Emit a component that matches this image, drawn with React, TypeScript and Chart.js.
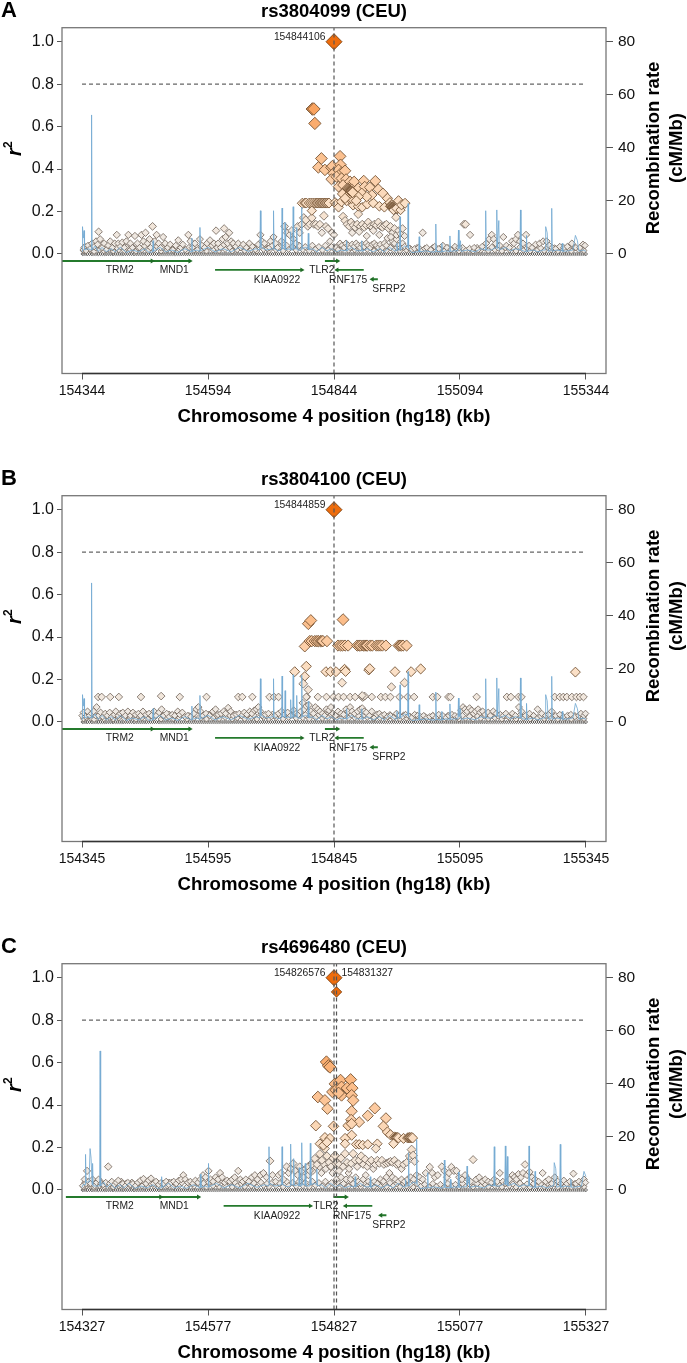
import React, { useEffect, useRef } from "react";
import { Chart, registerables } from "chart.js";

Chart.register(...registerables);

type Pair = [number, number];

// All positions are kb from the left-most tick of panel A/B (154344) or from each panel's own start, as noted.
const r2Ticks = [0, 0.2, 0.4, 0.6, 0.8, 1];
const r2TickLabels = ["0.0", "0.2", "0.4", "0.6", "0.8", "1.0"];
const rateTicks = [0, 20, 40, 60, 80];
const kbTicks = [0, 250, 500, 750, 1000];
const kbLabelsA = ["154344", "154594", "154844", "155094", "155344"];
const kbLabelsB = ["154345", "154595", "154845", "155095", "155345"];
const kbLabelsC = ["154327", "154577", "154827", "155077", "155327"];

// SNPs at r2 = 0 (kb from panel start)
const zeroRowKb = [1,4,8,11,15,19,22,26,30,33,37,41,45,48,52,56,60,63,67,71,75,79,82,86,90,94,98,102,105,109,113,117,121,125,128,132,136,140,144,148,152,155,159,163,167,171,175,179,183,186,190,194,198,202,206,210,214,218,222,226,230,234,238,242,246,250,254,258,262,266,270,274,278,282,286,290,294,298,302,306,310,314,318,322,326,330,334,338,342,346,350,354,358,362,366,370,374,378,382,386,390,394,398,402,406,410,414,418,422,426,430,434,438,442,446,450,454,458,462,466,470,474,478,482,486,490,494,498,502,506,510,514,518,522,526,530,534,538,542,546,550,554,558,562,566,570,574,578,582,586,590,594,598,602,606,610,614,618,622,626,630,634,638,642,646,650,654,658,662,666,670,674,678,682,686,690,694,698,702,706,710,714,718,722,726,730,734,738,742,746,750,754,758,762,766,770,774,778,782,786,790,794,798,802,806,810,814,818,822,826,830,834,838,842,846,850,854,858,862,866,870,874,878,882,886,890,894,898,902,906,910,914,918,922,926,930,934,938,942,946,950,954,958,962,966,970,974,978,982,986,990,994,998,1000];

// SNPs just above zero, seen in all three panels
const nearZeroSnps: Pair[] = [[3,.015],[9,.02],[17,.018],[24,.012],[35,.02],[43,.015],[54,.022],[62,.014],[73,.02],[84,.016],[96,.02],[107,.013],[119,.02],[131,.016],[143,.02],[157,.014],[169,.02],[181,.016],[193,.022],[208,.014],[222,.018],[236,.02],[247,.014],[260,.02],[272,.016],[284,.022],[298,.014],[308,.02],[323,.016],[336,.02],[347,.014],[360,.022],[371,.016],[385,.02],[399,.015],[410,.022],[425,.018],[438,.02],[451,.015],[463,.022],[477,.018],[489,.02],[503,.016],[516,.022],[529,.018],[541,.02],[553,.016],[566,.022],[579,.016],[591,.02],[604,.016],[618,.02],[631,.016],[644,.018],[657,.014],[672,.018],[688,.014],[703,.018],[719,.014],[733,.02],[748,.014],[761,.018],[776,.014],[791,.018],[806,.016],[819,.02],[833,.014],[848,.02],[861,.014],[876,.018],[889,.014],[903,.02],[917,.016],[931,.02],[944,.014],[958,.018],[971,.014],[986,.018],[996,.016]];
const sharedLowSnps: Pair[] = [[6,.035],[14,.03],[21,.04],[27,.03],[39,.035],[47,.03],[58,.035],[69,.03],[78,.04],[88,.032],[99,.036],[111,.03],[124,.038],[136,.03],[149,.035],[160,.03],[173,.036],[185,.03],[198,.035],[212,.03],[226,.036],[241,.032],[252,.036],[268,.03],[280,.04],[293,.032],[303,.036],[316,.03],[329,.036],[341,.032],[355,.036],[367,.03],[378,.036],[392,.032],[406,.04],[418,.034],[431,.04],[443,.034],[457,.04],[470,.034],[483,.04],[495,.034],[507,.036],[521,.03],[535,.034],[548,.03],[560,.034],[573,.03],[586,.034],[599,.03],[611,.034],[625,.03],[638,.032],[651,.026],[665,.03],[680,.026],[696,.03],[711,.026],[726,.03],[741,.026],[755,.03],[769,.026],[784,.03],[799,.028],[813,.032],[826,.028],[840,.03],[855,.028],[869,.032],[883,.028],[896,.03],[910,.028],[924,.032],[938,.028],[951,.03],[965,.028],[978,.03],[991,.028]];

const lowCloudA: Pair[] = [[2,.02],[4,.03],[8,.015],[12,.04],[16,.025],[20,.05],[24,.035],[28,.06],[31,.045],[33,.105],[36,.07],[40,.03],[44,.05],[48,.02],[52,.04],[56,.06],[60,.03],[65,.05],[69,.09],[72,.05],[76,.035],[80,.055],[84,.03],[88,.06],[92,.09],[96,.05],[100,.03],[105,.085],[110,.05],[114,.03],[118,.09],[122,.06],[126,.1],[130,.05],[134,.07],[140,.13],[144,.06],[148,.09],[152,.05],[156,.03],[161,.08],[165,.05],[170,.03],[175,.045],[180,.02],[186,.04],[191,.065],[196,.03],[200,.045],[205,.02],[211,.09],[215,.06],[219,.03],[224,.05],[229,.02],[234,.07],[238,.04],[243,.03],[248,.05],[254,.065],[258,.04],[262,.05],[266,.11],[270,.05],[275,.03],[279,.07],[282,.12],[285,.08],[289,.05],[292,.1],[296,.06],[300,.05],[305,.035],[310,.05],[315,.03],[320,.045],[326,.03],[332,.05],[338,.035],[344,.02],[350,.045],[354,.09],[357,.06],[362,.05],[368,.025],[372,.03],[374,.06],[378,.04],[380,.08],[384,.05],[388,.03],[396,.06],[402,.13],[407,.1],[412,.09],[416,.11],[420,.07],[424,.05],[428,.13],[432,.1],[436,.14],[440,.17],[444,.16],[448,.13],[452,.14],[456,.17],[460,.14],[464,.14],[468,.13],[472,.14],[476,.1],[480,.18],[484,.13],[488,.12],[492,.06],[496,.1],[500,.09],[504,.03],[508,.02],[512,.05],[516,.04],[520,.03],[524,.05],[528,.04],[532,.03],[536,.045],[540,.035],[544,.05],[548,.04],[552,.03],[556,.045],[560,.035],[564,.05],[568,.04],[572,.03],[576,.045],[580,.05],[584,.04],[588,.03],[592,.045],[596,.03],[600,.05],[604,.04],[612,.03],[616,.06],[620,.05],[624,.07],[628,.04],[632,.03],[636,.05],[640,.035],[648,.03],[654,.02],[660,.025],[668,.03],[676,.1],[684,.03],[692,.02],[700,.035],[708,.025],[716,.04],[724,.03],[732,.02],[740,.035],[748,.03],[758,.14],[761,.14],[770,.09],[778,.03],[786,.02],[794,.035],[802,.05],[808,.07],[813,.09],[817,.07],[821,.05],[829,.04],[836,.08],[842,.04],[848,.03],[853,.06],[857,.05],[861,.07],[865,.09],[869,.06],[875,.05],[881,.09],[887,.04],[893,.03],[900,.045],[908,.05],[915,.06],[922,.06],[927,.04],[933,.03],[940,.025],[948,.035],[956,.03],[963,.035],[972,.05],[980,.03],[988,.03],[994,.045],[998,.04]];
const midBandA: Pair[] = [[518,.176],[522,.157],[526,.14],[530,.13],[534,.15],[538,.135],[542,.125],[546,.14],[548,.188],[552,.13],[556,.14],[560,.125],[564,.135],[568,.15],[572,.13],[576,.125],[580,.14],[584,.135],[588,.15],[592,.13],[596,.125],[600,.135],[604,.14],[608,.12],[612,.13],[616,.1],[620,.12],[624,.09],[628,.11],[632,.095],[636,.12],[640,.085],[536,.1],[550,.105],[565,.085],[578,.11],[590,.09],[606,.075],[613,.08]];
const upperBandA: Pair[] = [[437,.239],[442,.24],[445,.24],[451,.24],[455,.24],[459,.24],[463,.24],[466,.24],[469,.24],[472,.24],[475,.24],[477,.24],[479,.24],[482,.24],[485,.24],[487,.24],[490,.24],[456,.204],[502,.242],[505,.235],[509,.22],[515,.246],[525,.251],[531,.262],[538,.23],[548,.225],[556,.22],[566,.235],[578,.24],[590,.225],[600,.22]];
const highSnpsA: Pair[] = [[457,.683],[460,.683],[462,.615],[475,.45],[469,.408],[482,.396],[495,.407],[497,.414],[512,.46],[513,.42],[499,.38],[495,.352],[509,.396],[515,.383],[522,.392],[505,.364],[515,.356],[524,.352],[509,.317],[518,.325],[532,.341],[540,.341],[528,.309],[535,.305],[542,.294],[548,.309],[559,.345],[561,.317],[555,.286],[571,.314],[582,.344],[588,.305],[597,.286],[606,.262],[575,.278],[565,.27],[548,.27],[535,.262],[544,.251],[517,.283],[532,.286],[522,.262],[527,.31],[528,.307],[529,.305],[530,.302],[531,.3],[532,.299],[533,.298],[534,.296],[535,.295],[536,.292],[537,.29],[611,.242],[614,.231],[612,.225],[613,.224],[614,.222],[615,.221],[616,.22],[617,.219],[618,.218],[619,.217],[620,.215],[621,.214],[622,.213],[623,.212],[625,.21],[618,.207],[623,.173],[624,.215],[628,.251],[632,.207],[634,.231],[641,.239]];

const lowCloudB: Pair[] = [[0,.03],[3,.045],[7,.025],[11,.05],[15,.03],[19,.04],[23,.05],[29,.07],[33,.03],[37,.045],[41,.025],[46,.04],[50,.03],[55,.045],[59,.025],[64,.035],[67,.05],[72,.03],[76,.04],[81,.045],[86,.03],[91,.05],[96,.03],[101,.045],[106,.035],[112,.04],[116,.03],[121,.05],[127,.035],[133,.04],[138,.03],[143,.05],[147,.03],[153,.045],[158,.06],[162,.03],[168,.04],[173,.025],[179,.035],[184,.03],[190,.05],[194,.035],[199,.045],[204,.025],[210,.03],[216,.025],[222,.04],[227,.06],[231,.07],[235,.05],[240,.03],[246,.04],[253,.03],[260,.05],[265,.06],[270,.035],[276,.04],[281,.05],[285,.04],[290,.067],[295,.05],[300,.03],[306,.035],[312,.04],[317,.03],[322,.045],[327,.035],[333,.05],[337,.04],[342,.055],[346,.06],[350,.07],[354,.05],[358,.03],[364,.035],[370,.04],[376,.025],[383,.03],[390,.04],[396,.05],[402,.035],[408,.045],[414,.03],[420,.055],[425,.04],[429,.035],[434,.05],[438,.09],[441,.06],[445,.075],[450,.08],[454,.05],[459,.04],[463,.07],[468,.06],[472,.05],[477,.04],[481,.03],[485,.06],[490,.055],[494,.07],[498,.04],[503,.03],[508,.05],[514,.04],[519,.035],[524,.06],[528,.05],[532,.07],[536,.05],[541,.04],[547,.05],[552,.06],[556,.065],[560,.05],[564,.045],[570,.03],[575,.05],[580,.02],[585,.035],[590,.04],[595,.03],[600,.035],[606,.025],[612,.03],[618,.02],[624,.04],[630,.03],[636,.025],[642,.035],[648,.03],[654,.02],[660,.035],[666,.03],[672,.025],[678,.03],[684,.02],[690,.025],[696,.03],[702,.02],[708,.035],[716,.03],[722,.02],[728,.03],[734,.035],[740,.03],[746,.025],[752,.055],[756,.07],[760,.06],[764,.05],[769,.065],[773,.055],[777,.04],[781,.05],[786,.06],[790,.045],[795,.05],[800,.035],[806,.045],[810,.03],[816,.05],[822,.04],[830,.035],[836,.03],[841,.04],[846,.025],[854,.04],[860,.03],[867,.07],[872,.05],[880,.03],[888,.04],[896,.03],[904,.06],[912,.04],[920,.03],[926,.035],[932,.05],[940,.03],[948,.035],[955,.025],[963,.03],[970,.035],[978,.025],[986,.03],[990,.04],[996,.03],[999,.04]];
const row012B: Pair[] = [[32,.118],[39,.118],[56,.118],[73,.118],[117,.118],[157,.122],[194,.118],[247,.118],[310,.118],[318,.118],[338,.118],[372,.118],[381,.118],[390,.118],[446,.118],[468,.118],[485,.118],[499,.118],[509,.118],[519,.118],[532,.118],[542,.118],[555,.12],[557,.115],[559,.118],[561,.122],[575,.118],[593,.118],[602,.118],[612,.118],[630,.118],[646,.118],[659,.118],[696,.118],[705,.118],[727,.118],[731,.118],[783,.118],[843,.118],[851,.118],[866,.118],[872,.118],[938,.118],[948,.118],[955,.118],[962,.118],[972,.118],[981,.118],[988,.118],[995,.118]];
const highSnpsB: Pair[] = [[449,.463],[454,.478],[518,.482],[442,.356],[452,.381],[456,.381],[462,.381],[466,.381],[469,.381],[473,.381],[476,.381],[478,.381],[486,.381],[508,.36],[513,.36],[517,.36],[522,.36],[528,.36],[546,.36],[550,.36],[553,.36],[558,.36],[561,.36],[564,.36],[566,.36],[572,.36],[576,.36],[584,.36],[588,.36],[592,.36],[596,.36],[603,.36],[628,.36],[631,.36],[634,.36],[637,.36],[644,.36],[422,.237],[445,.262],[484,.237],[493,.237],[504,.237],[521,.248],[523,.238],[569,.245],[571,.251],[621,.237],[653,.237],[672,.25],[979,.235],[442,.215],[439,.18],[449,.152],[445,.118],[516,.185],[614,.165],[640,.185],[556,.125]];

const lowCloudC: Pair[] = [[1,.02],[5,.05],[8,.03],[10,.09],[13,.04],[17,.03],[21,.05],[25,.02],[29,.035],[33,.05],[38,.03],[42,.025],[47,.035],[52,.11],[55,.03],[59,.04],[64,.025],[68,.035],[72,.045],[76,.025],[81,.03],[86,.02],[91,.035],[96,.025],[101,.03],[106,.02],[111,.035],[116,.045],[122,.053],[127,.03],[132,.045],[137,.055],[142,.03],[147,.04],[152,.025],[157,.035],[162,.03],[167,.04],[172,.025],[177,.035],[182,.04],[187,.03],[192,.045],[197,.05],[201,.07],[205,.05],[210,.035],[215,.04],[220,.03],[225,.045],[230,.035],[235,.05],[240,.07],[245,.06],[251,.09],[255,.05],[260,.04],[265,.06],[270,.05],[274,.08],[278,.06],[283,.035],[288,.045],[293,.04],[298,.05],[303,.06],[310,.09],[314,.05],[319,.04],[325,.05],[331,.04],[337,.06],[343,.07],[348,.05],[354,.07],[360,.08],[366,.06],[373,.137],[378,.07],[384,.04],[390,.07],[395,.08],[400,.05],[406,.11],[410,.08],[414,.1],[419,.125],[423,.09],[428,.07],[432,.11],[436,.09],[440,.06],[444,.1],[449,.07],[453,.12],[458,.09],[463,.11],[467,.14],[471,.11],[475,.08],[480,.12],[484,.1],[488,.14],[493,.11],[497,.08],[501,.12],[505,.05],[510,.09],[514,.06],[519,.03],[524,.05],[529,.08],[533,.05],[538,.03],[543,.06],[548,.04],[553,.03],[558,.05],[563,.07],[568,.04],[574,.03],[580,.04],[586,.03],[592,.05],[598,.04],[604,.06],[610,.08],[616,.06],[622,.05],[628,.04],[634,.05],[640,.04],[646,.05],[652,.06],[658,.05],[664,.07],[670,.06],[676,.05],[682,.08],[690,.108],[695,.08],[700,.06],[706,.07],[714,.11],[719,.09],[724,.06],[728,.08],[733,.108],[738,.09],[743,.09],[748,.06],[754,.05],[760,.07],[766,.05],[771,.04],[776,.143],[782,.05],[788,.06],[794,.04],[800,.05],[806,.04],[812,.035],[818,.05],[824,.04],[829,.08],[835,.04],[842,.035],[848,.05],[854,.07],[858,.06],[862,.05],[866,.075],[871,.06],[875,.08],[879,.12],[883,.07],[888,.085],[893,.06],[899,.05],[906,.04],[914,.08],[920,.04],[926,.05],[932,.03],[938,.06],[944,.04],[950,.03],[956,.045],[962,.03],[968,.04],[975,.077],[980,.03],[986,.04],[992,.03],[996,.05],[999,.035]];
const midBandC: Pair[] = [[448,.11],[452,.09],[456,.12],[462,.148],[466,.12],[472,.17],[476,.14],[482,.195],[486,.16],[490,.13],[494,.11],[498,.15],[502,.163],[506,.13],[510,.12],[514,.15],[518,.11],[522,.171],[526,.13],[530,.1],[534,.125],[538,.171],[542,.14],[546,.11],[550,.14],[554,.16],[558,.12],[562,.145],[566,.11],[570,.13],[574,.14],[578,.1],[582,.12],[586,.14],[590,.125],[595,.14],[599,.12],[604,.125],[608,.13],[612,.135],[616,.13],[620,.14],[624,.12],[628,.124],[634,.1],[638,.12],[644,.13],[650,.16],[654,.19],[657,.163],[660,.135]];
const highSnpsC: Pair[] = [[485,.603],[489,.585],[492,.579],[502,.5],[513,.517],[533,.52],[497,.462],[504,.47],[515,.485],[515,.446],[509,.457],[526,.48],[536,.48],[535,.446],[538,.422],[468,.438],[482,.422],[487,.383],[535,.371],[581,.385],[567,.35],[603,.338],[534,.331],[550,.32],[464,.303],[499,.3],[528,.303],[535,.312],[598,.3],[606,.273],[612,.26],[620,.25],[622,.247],[624,.247],[626,.247],[628,.245],[638,.243],[646,.245],[648,.246],[650,.247],[652,.246],[654,.247],[656,.245],[535,.258],[522,.243],[482,.247],[492,.243],[472,.218],[479,.21],[486,.225],[522,.218],[544,.215],[550,.215],[557,.212],[567,.215],[586,.218],[583,.195],[618,.218]];

// Recombination rate (kb from 154344, cM/Mb)
const recombAB: Pair[] = [[0,1],[1,10.3],[2.5,6],[4,8.8],[5,1.5],[12,2],[18,1.5],[19,52.4],[20,1.5],[26,3],[32,1],[40,2.5],[48,.8],[58,2],[66,.8],[76,2.5],[88,.6],[100,1.5],[112,.8],[124,2],[133,.6],[140,.8],[141,5],[142,1],[155,2.5],[166,.8],[178,1.5],[190,.6],[204,2],[217,.8],[218,6],[219,1],[228,1.5],[233,1],[234,10],[235,1.2],[250,2.5],[264,.8],[280,2],[296,.8],[312,2.5],[330,1],[345,2],[353,1.5],[354,16.3],[355,2.5],[366,1.5],[379,2],[380,16.3],[381,2],[390,1.2],[396,1.5],[397,17.3],[398,2],[402,2],[403,11.8],[404,1.5],[411,2],[413,1.5],[414,8.4],[415,1.5],[418,1.5],[419,17.8],[420,2],[425,2],[426,10],[427,1.5],[435,1.5],[436,17.6],[437,2],[444,2.5],[448,2],[449,7.8],[450,1.5],[458,2],[466,.8],[476,2.5],[486,1.2],[495,2],[505,.8],[514,1.5],[522,1.2],[524,1.2],[525,5],[526,1.2],[535,2.5],[545,1.2],[554,1.2],[555,5],[556,1],[566,2],[578,.8],[590,2],[600,.8],[610,2.5],[620,1.2],[624,1.2],[625,4],[626,1.5],[630,1.5],[631,14],[632,1.5],[640,3],[646,2.5],[647,19],[648,2],[655,.5],[662,.8],[668,.8],[669,6.5],[670,.8],[682,1.2],[692,.8],[701,.8],[702,11.3],[703,1],[713,.8],[714,4],[715,.8],[722,1.2],[729,1],[730,6.8],[731,1],[740,1.2],[746,1.2],[747,9],[748,2],[751,5],[752,1],[765,1.5],[780,.8],[792,2],[800,1.5],[801,16.3],[802,1.5],[812,1.5],[822,2.5],[823,16.6],[824,2],[827,12.6],[828,1.5],[840,2.5],[850,1.2],[860,2],[869,1.5],[870,16.6],[871,1.5],[878,1],[881,1],[882,7],[883,1],[895,1.5],[905,.8],[915,1.5],[919,1.5],[920,10.3],[923,8],[925,1],[931,1.5],[932,17.2],[933,1],[942,1.5],[950,1.2],[952,1.2],[953,4],[954,1],[965,1.2],[974,1.5],[979,7],[983,5],[986,1],[994,1.5],[1000,1]];
const recombLeftC: Pair[] = [[0,1],[2,2],[6,2],[7,13.4],[8,3],[14,3],[16,15.6],[18,12],[20,2],[21,10],[22,1.5],[30,1.5]];

// Genes: name, start, end (kb from 154344), strand, row
const geneNames = ["TRM2", "MND1", "KIAA0922", "TLR2", "RNF175", "SFRP2"];
const geneStarts = [-49, 141, 264, 482, 506, 576];
const geneEnds = [139, 214, 436, 507, 559, 587];
const geneStrands = [1, 1, 1, 1, -1, -1];
const geneRowR2 = [-0.033, -0.033, -0.075, -0.033, -0.075, -0.119];
const geneLabelR2 = [-0.078, -0.078, -0.123, -0.074, -0.123, -0.167];
const geneLabelKbAB = [75, 183, 387, 476, 528, 609];
const geneLabelKbC = [75, 183, 387, 484, 536, 609];

const ORANGE_STOPS: [number, number[]][] = [
  [0, [236, 232, 228]],
  [0.1, [240, 232, 224]],
  [0.24, [251, 224, 198]],
  [0.4, [252, 200, 156]],
  [0.68, [249, 164, 96]],
  [1, [238, 108, 12]],
];
const RADIUS_STOPS: Pair[] = [[0, 1.6], [0.012, 3], [0.05, 3.4], [0.13, 3.9], [0.24, 5], [0.4, 5.8], [0.68, 6.3], [1, 8]];

function lookup(t: number) {
  for (let i = 1; i < RADIUS_STOPS.length; i++) {
    const [a, ra] = RADIUS_STOPS[i - 1];
    const [b, rb] = RADIUS_STOPS[i];
    if (t <= b) return ra + ((rb - ra) * (t - a)) / (b - a);
  }
  return 8;
}
function fill(t: number) {
  for (let i = 1; i < ORANGE_STOPS.length; i++) {
    const [a, ca] = ORANGE_STOPS[i - 1];
    const [b, cb] = ORANGE_STOPS[i];
    if (t <= b) {
      const f = (t - a) / (b - a);
      return `rgb(${ca.map((c, k) => Math.round(c + (cb[k] - c) * f)).join(",")})`;
    }
  }
  return "rgb(238,108,12)";
}
const toXY = (list: Pair[]) => list.map(([x, y]) => ({ x, y }));

type Panel = {
  letter: string;
  title: string;
  kbLabels: string[];
  snps: Pair[];
  leads: Pair[];
  leadLabels: { text: string; kb: number; align: CanvasTextAlign }[];
  recomb: Pair[];
  geneShift: number;
  geneLabelKb: number[];
};

const panels: Panel[] = [
  {
    letter: "A",
    title: "rs3804099 (CEU)",
    kbLabels: kbLabelsA,
    snps: [...nearZeroSnps, ...sharedLowSnps, ...lowCloudA, ...midBandA, ...upperBandA, ...highSnpsA],
    leads: [[500, 1]],
    leadLabels: [{ text: "154844106", kb: 483, align: "right" }],
    recomb: recombAB,
    geneShift: 0,
    geneLabelKb: geneLabelKbAB,
  },
  {
    letter: "B",
    title: "rs3804100 (CEU)",
    kbLabels: kbLabelsB,
    snps: [...nearZeroSnps, ...sharedLowSnps, ...lowCloudB, ...row012B, ...highSnpsB],
    leads: [[500, 1]],
    leadLabels: [{ text: "154844859", kb: 483, align: "right" }],
    recomb: recombAB,
    geneShift: 0,
    geneLabelKb: geneLabelKbAB,
  },
  {
    letter: "C",
    title: "rs4696480 (CEU)",
    kbLabels: kbLabelsC,
    snps: [...nearZeroSnps, ...sharedLowSnps, ...lowCloudC, ...midBandC, ...highSnpsC],
    leads: [[500, 1], [505, 0.933]],
    leadLabels: [
      { text: "154826576", kb: 483, align: "right" },
      { text: "154831327", kb: 515, align: "left" },
    ],
    recomb: [...recombLeftC, ...recombAB.filter(([x]) => x >= 18 && x <= 983).map(([x, y]) => [x + 17, y] as Pair)],
    geneShift: 17,
    geneLabelKb: geneLabelKbC,
  },
];

const X_MIN = -39.7;
const X_MAX = 1039.7;
const Y_MIN = -0.563;
const Y_MAX = 1.066;
const FONT = "'Liberation Sans', Arial, sans-serif";

function PanelChart({ panel, top }: { panel: Panel; top: number }) {
  const ref = useRef<HTMLCanvasElement>(null);
  useEffect(() => {
    const canvas = ref.current!;
    const zero = zeroRowKb.map((x) => [x, 0] as Pair);
    const all = [...zero, ...panel.snps];
    const geneSets = geneNames.map((name, i) => {
      const s = geneStarts[i] + panel.geneShift;
      const e = geneEnds[i] + panel.geneShift;
      const pts = [{ x: s, y: geneRowR2[i] }, { x: e, y: geneRowR2[i] }];
      const tipIdx = geneStrands[i] > 0 ? 1 : 0;
      return {
        label: name,
        data: pts,
        showLine: true,
        borderColor: "#247a2c",
        borderWidth: 1.8,
        pointStyle: "triangle" as const,
        pointRadius: pts.map((_, k) => (k === tipIdx ? 2.8 : 0)),
        pointRotation: geneStrands[i] > 0 ? 90 : -90,
        pointBackgroundColor: "#1f6b25",
        pointBorderWidth: 0,
        yAxisID: "y",
      };
    });
    const vlines = panel.leads.map(([x]) => ({
      label: "lead",
      data: [{ x, y: Y_MIN }, { x, y: Y_MAX }],
      showLine: true,
      borderColor: "#555",
      borderWidth: 1.2,
      borderDash: [4, 3],
      pointRadius: 0,
      yAxisID: "y",
    }));
    const chart = new Chart(canvas, {
      type: "scatter",
      data: {
        datasets: [
          ...vlines,
          {
            label: "threshold",
            data: [{ x: 0, y: 0.8 }, { x: 1000, y: 0.8 }],
            showLine: true,
            borderColor: "#666",
            borderWidth: 1.1,
            borderDash: [4, 3],
            pointRadius: 0,
            yAxisID: "y",
          },
          {
            label: "lead SNP",
            data: toXY(panel.leads),
            pointStyle: "rectRot",
            pointRadius: panel.leads.map(([, r]) => (r === 1 ? 8 : 5.2)),
            pointBackgroundColor: "#ee6c0c",
            pointBorderColor: "rgba(120,60,10,.85)",
            pointBorderWidth: 1,
            yAxisID: "y",
          },
          ...geneSets,
          {
            label: "Recombination rate",
            data: toXY(panel.recomb),
            showLine: true,
            borderColor: "rgba(116,170,210,.85)",
            borderWidth: 1,
            pointRadius: 0,
            yAxisID: "y2",
          },
          {
            label: "r2",
            data: toXY(all),
            pointStyle: "rectRot",
            pointRadius: all.map(([, y]) => lookup(y)),
            pointBackgroundColor: all.map(([, y]) => fill(y)),
            pointBorderColor: all.map(([, y]) => (y === 0 ? "rgba(70,70,70,.8)" : y < 0.2 ? "rgba(110,98,88,.8)" : "rgba(110,76,45,.85)")),
            pointBorderWidth: 1,
            yAxisID: "y",
          },
        ],
      },
      options: {
        animation: false,
        responsive: false,
        layout: { padding: 0 },
        plugins: {
          legend: { display: false },
          tooltip: { enabled: false },
          title: {
            display: true,
            text: panel.title,
            fullSize: false,
            color: "#000",
            font: { family: FONT, size: 18.5, weight: "bold", lineHeight: 1 },
            padding: { top: 3, bottom: 6.2 },
          },
        },
        scales: {
          x: {
            type: "linear",
            min: X_MIN,
            max: X_MAX,
            afterFit: (s: any) => { s.height = 53.5; },
            afterBuildTicks: (s: any) => { s.ticks = kbTicks.map((value) => ({ value })); },
            grid: { drawOnChartArea: false, drawTicks: true, tickLength: 6, tickColor: "#555", tickWidth: 1 },
            border: { display: false },
            ticks: {
              autoSkip: false,
              maxRotation: 0,
              padding: 3,
              color: "#111",
              font: { family: FONT, size: 14 },
              callback: (v: any) => panel.kbLabels[kbTicks.indexOf(Number(v))],
            },
            title: {
              display: true,
              text: "Chromosome 4 position (hg18) (kb)",
              color: "#000",
              font: { family: FONT, size: 18.6, weight: "bold", lineHeight: 1 },
              padding: { top: 0, bottom: 0.5 },
            },
          },
          y: {
            type: "linear",
            position: "left",
            min: Y_MIN,
            max: Y_MAX,
            afterFit: (s: any) => { s.width = 62; },
            afterBuildTicks: (s: any) => { s.ticks = r2Ticks.map((value) => ({ value })); },
            grid: { drawOnChartArea: false, drawTicks: true, tickLength: 5, tickColor: "#555", tickWidth: 1 },
            border: { display: false },
            ticks: {
              autoSkip: false,
              padding: 3,
              color: "#111",
              font: { family: FONT, size: 16 },
              callback: (v: any) => r2TickLabels[r2Ticks.indexOf(Number(v))],
            },
          },
          y2: {
            type: "linear",
            position: "right",
            min: Y_MIN * 80,
            max: Y_MAX * 80,
            afterFit: (s: any) => { s.width = 81; },
            afterBuildTicks: (s: any) => { s.ticks = rateTicks.map((value) => ({ value })); },
            grid: { drawOnChartArea: false, drawTicks: true, tickLength: 7, tickColor: "#555", tickWidth: 1 },
            border: { display: false },
            ticks: { autoSkip: false, padding: 5, color: "#111", font: { family: FONT, size: 15.5 } },
          },
        },
      } as any,
      plugins: [
        {
          id: "annotations",
          afterDraw(c: any) {
            const { ctx, chartArea: a, scales } = c;
            const { x, y } = scales;
            ctx.save();
            ctx.strokeStyle = "#777";
            ctx.lineWidth = 1.3;
            ctx.strokeRect(a.left, a.top, a.right - a.left, a.bottom - a.top);
            ctx.strokeStyle = "#333";
            ctx.beginPath();
            ctx.moveTo(x.getPixelForValue(kbTicks[0]), a.bottom);
            ctx.lineTo(x.getPixelForValue(kbTicks[kbTicks.length - 1]), a.bottom);
            ctx.stroke();
            ctx.fillStyle = "#000";
            ctx.textBaseline = "middle";
            ctx.textAlign = "left";
            ctx.font = `bold 22px ${FONT}`;
            ctx.fillText(panel.letter, 1, 11);
            ctx.font = `10.3px ${FONT}`;
            ctx.textAlign = "center";
            ctx.fillStyle = "#222";
            geneNames.forEach((name, i) => {
              ctx.fillText(name, x.getPixelForValue(panel.geneLabelKb[i]), y.getPixelForValue(geneLabelR2[i]));
            });
            panel.leadLabels.forEach((l) => {
              ctx.textAlign = l.align;
              ctx.fillText(l.text, x.getPixelForValue(l.kb), y.getPixelForValue(1.02));
            });
            ctx.fillStyle = "#000";
            ctx.save();
            ctx.translate(13, 148);
            ctx.rotate(-Math.PI / 2);
            ctx.textAlign = "left";
            ctx.font = `italic bold 20px ${FONT}`;
            ctx.fillText("r", -8, 2);
            ctx.font = `bold 12px ${FONT}`;
            ctx.fillText("2", 0, -4);
            ctx.restore();
            ctx.font = `bold 18.5px ${FONT}`;
            ctx.textAlign = "center";
            ctx.save();
            ctx.translate(654, 148);
            ctx.rotate(-Math.PI / 2);
            ctx.fillText("Recombination rate", 0, 0);
            ctx.restore();
            ctx.save();
            ctx.translate(677, 148);
            ctx.rotate(-Math.PI / 2);
            ctx.fillText("(cM/Mb)", 0, 0);
            ctx.restore();
            ctx.restore();
          },
        },
      ],
    });
    return () => chart.destroy();
  }, [panel]);
  return (
    <canvas
      ref={ref}
      width={687}
      height={427}
      style={{ position: "absolute", left: 0, top, width: 687, height: 427, display: "block" }}
    />
  );
}

export default function App() {
  return (
    <div style={{ position: "absolute", left: 0, top: 0, width: 687, height: 1363, background: "#fff", overflow: "hidden" }}>
      {panels.map((p, i) => (
        <PanelChart key={p.letter} panel={p} top={i * 468} />
      ))}
    </div>
  );
}
